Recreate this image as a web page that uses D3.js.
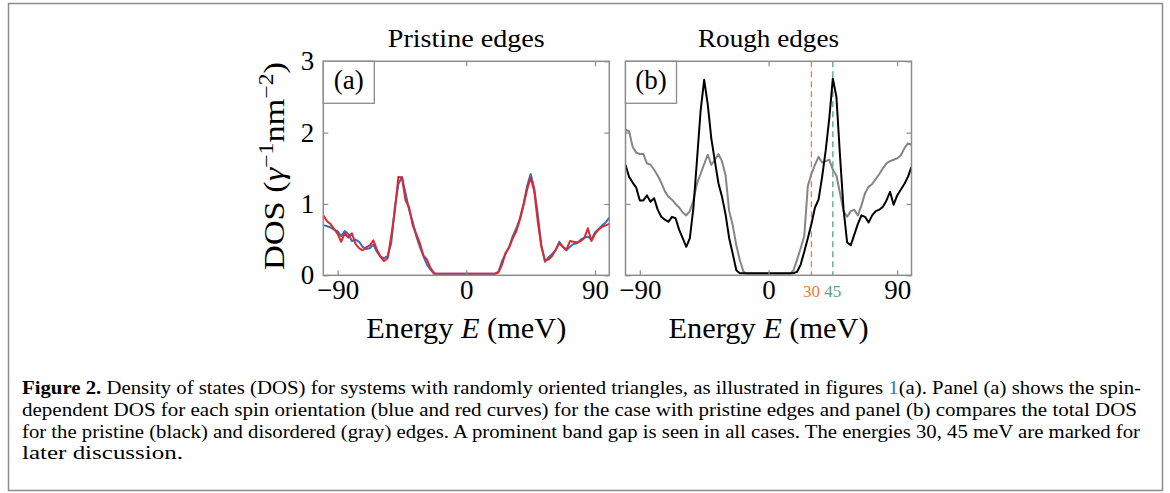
<!DOCTYPE html>
<html>
<head>
<meta charset="utf-8">
<script src="https://cdn.jsdelivr.net/npm/d3@7"></script>
<style>
  body { margin: 0; background: #fff; }
  svg { display: block; font-family: "Liberation Serif", serif; }
</style>
</head>
<body>
<div id="chart"></div>
<script>
// energy grid (meV) shared by all curves
const energy = [
  -100, -97.5, -95, -92.5, -90, -87.5, -85, -82.5,
  -80, -77.5, -75, -72.5, -70, -67.5, -65, -62.5,
  -60, -57.5, -55, -52.5, -50, -47.5, -45, -42.5,
  -40, -37.5, -35, -32.5, -30, -27.5, -25, -22.5,
  -20, -17.5, -15, -12.5, -10, -7.5, -5, -2.5,
  0,
  2.5, 5, 7.5, 10, 12.5, 15, 17.5, 20,
  22.5, 25, 27.5, 30, 32.5, 35, 37.5, 40,
  42.5, 45, 47.5, 50, 52.5, 55, 57.5, 60,
  62.5, 65, 67.5, 70, 72.5, 75, 77.5, 80,
  82.5, 85, 87.5, 90, 92.5, 95, 97.5, 100
];

// panel (a): spin resolved DOS, pristine edges
const blueA = [
  0.70, 0.69, 0.67, 0.64, 0.62, 0.55, 0.62, 0.58,
  0.48, 0.50, 0.47, 0.40, 0.37, 0.38, 0.43, 0.33,
  0.26, 0.24, 0.27, 0.45, 0.95, 1.28, 1.38, 1.15,
  0.92, 0.75, 0.55, 0.40, 0.27, 0.15, 0.08, 0.02,
  0.02, 0.02, 0.02, 0.02, 0.02, 0.02, 0.02, 0.02,
  0.02,
  0.02, 0.02, 0.02, 0.02, 0.02, 0.02, 0.02, 0.02,
  0.05, 0.20, 0.30, 0.40, 0.55, 0.66, 0.80, 1.00,
  1.25, 1.42, 1.22, 0.85, 0.42, 0.19, 0.25, 0.30,
  0.35, 0.47, 0.40, 0.35, 0.40, 0.44, 0.45, 0.50,
  0.53, 0.54, 0.50, 0.60, 0.65, 0.70, 0.74, 0.81
];
const redA = [
  0.84, 0.76, 0.72, 0.65, 0.58, 0.47, 0.59, 0.53,
  0.59, 0.44, 0.38, 0.35, 0.39, 0.42, 0.49, 0.36,
  0.26, 0.20, 0.24, 0.55, 0.90, 1.38, 1.37, 1.05,
  0.95, 0.70, 0.58, 0.45, 0.28, 0.22, 0.10, 0.03,
  0.02, 0.02, 0.02, 0.02, 0.02, 0.02, 0.02, 0.02,
  0.02,
  0.02, 0.02, 0.02, 0.02, 0.02, 0.02, 0.02, 0.02,
  0.04, 0.15, 0.32, 0.39, 0.52, 0.62, 0.78, 0.98,
  1.20, 1.37, 1.18, 0.75, 0.40, 0.21, 0.22, 0.27,
  0.36, 0.45, 0.40, 0.36, 0.48, 0.47, 0.46, 0.48,
  0.52, 0.66, 0.48, 0.58, 0.64, 0.68, 0.70, 0.72
];

// panel (b): total DOS, pristine (black) vs rough (gray)
const blackB = [
  1.55, 1.38, 1.30, 1.23, 1.05, 1.05, 1.12, 1.03,
  1.08, 0.92, 0.82, 0.78, 0.75, 0.82, 0.80, 0.64,
  0.52, 0.40, 0.52, 0.95, 1.62, 2.30, 2.74, 2.40,
  1.92, 1.60, 1.29, 1.10, 0.85, 0.52, 0.30, 0.07,
  0.03, 0.03, 0.03, 0.03, 0.03, 0.03, 0.03, 0.03,
  0.03,
  0.03, 0.03, 0.03, 0.03, 0.03, 0.03, 0.03, 0.05,
  0.15, 0.33, 0.52, 0.72, 0.95, 1.06, 1.38, 1.75,
  2.20, 2.76, 2.50, 1.68, 0.92, 0.46, 0.42, 0.57,
  0.72, 0.84, 0.82, 0.74, 0.84, 0.90, 0.92, 0.96,
  1.05, 1.17, 0.99, 1.12, 1.20, 1.28, 1.38, 1.52
];
const grayB = [
  2.04, 2.02, 1.80, 1.72, 1.70, 1.70, 1.57, 1.55,
  1.48, 1.40, 1.30, 1.18, 1.10, 1.06, 1.00, 0.95,
  0.88, 0.84, 0.90, 1.05, 1.29, 1.42, 1.56, 1.69,
  1.55, 1.62, 1.70, 1.60, 1.40, 0.90, 0.70, 0.42,
  0.21, 0.05, 0.02, 0.02, 0.02, 0.02, 0.02, 0.02,
  0.02,
  0.02, 0.02, 0.02, 0.02, 0.02, 0.02, 0.07, 0.22,
  0.38, 0.55, 1.25, 1.42, 1.55, 1.66, 1.58, 1.60,
  1.62, 1.48, 1.40, 1.15, 0.90, 0.82, 0.90, 0.92,
  0.84, 0.98, 1.15, 1.24, 1.28, 1.35, 1.42, 1.50,
  1.57, 1.60, 1.62, 1.64, 1.68, 1.78, 1.85, 1.83
];

const xTicks = [-90, 0, 90];
const yTicks = [0, 1, 2, 3];
const markedEnergies = [30, 45];
const markedColors = ["#ee7d3a", "#4fa877"];

const captionLines = [
  [["Figure 2.", "bold"], [" Density of states (DOS) for systems with randomly oriented triangles, as illustrated in figures ", ""], ["1", "link"], ["(a). Panel (a) shows the spin-", ""]],
  [["dependent DOS for each spin orientation (blue and red curves) for the case with pristine edges and panel (b) compares the total DOS", ""]],
  [["for the pristine (black) and disordered (gray) edges. A prominent band gap is seen in all cases. The energies 30,  45 meV are marked for", ""]],
  [["later discussion.", ""]]
];
const captionWidths = [1119, 1115, 1118, 161];

var boxColor = "#8c8c8c";
var serif = "Liberation Serif, serif";

var svg = d3
  .select("#chart")
  .append("svg")
  .attr("width", 1170)
  .attr("height", 493);

// outer figure frame
svg
  .append("rect")
  .attr("x", 8.5)
  .attr("y", 3.5)
  .attr("width", 1154)
  .attr("height", 487)
  .attr("fill", "none")
  .attr("stroke", boxColor)
  .attr("stroke-width", 1.5);

var y = d3.scaleLinear().domain([0, 3]).range([275.3, 61.3]);

function drawPanel(left, opts) {
  var x = d3.scaleLinear().domain([-100, 100]).range([left, left + 286]);
  var g = svg.append("g").attr("font-family", serif);

  g.append("clipPath")
    .attr("id", "clip" + opts.id)
    .append("rect")
    .attr("x", x(-100))
    .attr("y", y(3))
    .attr("width", x(100) - x(-100))
    .attr("height", y(0) - y(3));

  // marker lines
  if (opts.marks) {
    markedEnergies.forEach(function (e, i) {
      g.append("line")
        .attr("x1", x(e))
        .attr("x2", x(e))
        .attr("y1", y(3))
        .attr("y2", y(0))
        .attr("stroke", markedColors[i])
        .attr("stroke-width", 1.3)
        .attr("stroke-dasharray", "6,4");
      g.append("text")
        .attr("x", x(e))
        .attr("y", 297)
        .attr("text-anchor", "middle")
        .attr("font-family", serif)
        .attr("font-size", 17)
        .attr("fill", markedColors[i])
        .text(e);
    });
  }

  var line = d3
    .line()
    .x(function (d) { return x(d[0]); })
    .y(function (d) { return y(d[1]); });

  opts.series.forEach(function (s) {
    g.append("path")
      .datum(d3.zip(energy, s.values))
      .attr("clip-path", "url(#clip" + opts.id + ")")
      .attr("fill", "none")
      .attr("stroke", s.color)
      .attr("stroke-width", 2)
      .attr("stroke-linejoin", "round")
      .attr("d", line);
  });

  // axes, ticks pointing inward
  var bottom = g
    .append("g")
    .attr("transform", "translate(0," + y(0) + ")")
    .call(d3.axisBottom(x).tickValues(xTicks).tickSize(-5).tickPadding(5).tickFormat(d3.format("d")));
  var top = g
    .append("g")
    .attr("transform", "translate(0," + y(3) + ")")
    .call(d3.axisTop(x).tickValues(xTicks).tickSize(-5).tickFormat(""));
  var leftAx = g
    .append("g")
    .attr("transform", "translate(" + x(-100) + ",0)")
    .call(d3.axisLeft(y).tickValues(yTicks).tickSize(-5).tickPadding(9).tickFormat(opts.yLabels ? d3.format("d") : ""));
  var rightAx = g
    .append("g")
    .attr("transform", "translate(" + x(100) + ",0)")
    .call(d3.axisRight(y).tickValues(yTicks).tickSize(-5).tickFormat(""));

  [bottom, top, leftAx, rightAx].forEach(function (a) {
    a.attr("font-family", serif);
    a.select(".domain").remove();
    a.selectAll(".tick line").attr("stroke", boxColor).attr("stroke-width", 1.2);
    a.selectAll("text").attr("font-size", 27).attr("fill", "#000");
  });

  g.append("rect")
    .attr("x", x(-100))
    .attr("y", y(3))
    .attr("width", x(100) - x(-100))
    .attr("height", y(0) - y(3))
    .attr("fill", "none")
    .attr("stroke", boxColor)
    .attr("stroke-width", 1.5);

  // panel label box
  g.append("rect")
    .attr("x", x(-100))
    .attr("y", y(3))
    .attr("width", 51)
    .attr("height", 42)
    .attr("fill", "#fff")
    .attr("stroke", boxColor)
    .attr("stroke-width", 1.3);
  g.append("text")
    .attr("x", x(-100) + 25.5)
    .attr("y", 89)
    .attr("text-anchor", "middle")
    .attr("font-size", 27)
    .text(opts.label);

  // title and x-axis title
  g.append("text")
    .attr("x", x(0))
    .attr("y", 47)
    .attr("text-anchor", "middle")
    .attr("font-size", 26)
    .attr("textLength", opts.titleWidth)
    .attr("lengthAdjust", "spacingAndGlyphs")
    .text(opts.title);

  var xt = g
    .append("text")
    .attr("x", x(0))
    .attr("y", 338)
    .attr("text-anchor", "middle")
    .attr("font-size", 29)
    .attr("textLength", 200)
    .attr("lengthAdjust", "spacingAndGlyphs");
  xt.append("tspan").text("Energy ");
  xt.append("tspan").attr("font-style", "italic").text("E");
  xt.append("tspan").text(" (meV)");
}

drawPanel(323.3, {
  id: "a",
  label: "(a)",
  title: "Pristine edges",
  titleWidth: 157,
  yLabels: true,
  series: [
    { values: blueA, color: "#2f6fbd" },
    { values: redA, color: "#e3262b" },
  ],
});

drawPanel(625.5, {
  id: "b",
  label: "(b)",
  title: "Rough edges",
  titleWidth: 141,
  yLabels: false,
  marks: true,
  series: [
    { values: grayB, color: "#858585" },
    { values: blackB, color: "#000" },
  ],
});

// y-axis title
var yt = svg
  .append("text")
  .attr("transform", "translate(284,166) rotate(-90)")
  .attr("text-anchor", "middle")
  .attr("font-family", serif)
  .attr("font-size", 29)
  .attr("textLength", 208)
  .attr("lengthAdjust", "spacingAndGlyphs");
yt.append("tspan").text("DOS (");
yt.append("tspan").attr("font-style", "italic").text("γ");
yt.append("tspan").attr("font-size", 20).attr("dy", -11).text("−1");
yt.append("tspan").attr("dy", 11).text("nm");
yt.append("tspan").attr("font-size", 20).attr("dy", -11).text("−2");
yt.append("tspan").attr("dy", 11).text(")");

// caption
var baselines = [394, 416, 437.5, 459];
captionLines.forEach(function (parts, i) {
  var t = svg
    .append("text")
    .attr("x", 22)
    .attr("y", baselines[i])
    .attr("font-family", serif)
    .attr("font-size", 19.5)
    .attr("textLength", captionWidths[i])
    .attr("lengthAdjust", "spacingAndGlyphs");
  parts.forEach(function (p) {
    var ts = t.append("tspan").text(p[0]);
    if (p[1] === "bold") ts.attr("font-weight", "bold");
    if (p[1] === "link") ts.attr("fill", "#2a7fb8");
  });
});
</script>
</body>
</html>
